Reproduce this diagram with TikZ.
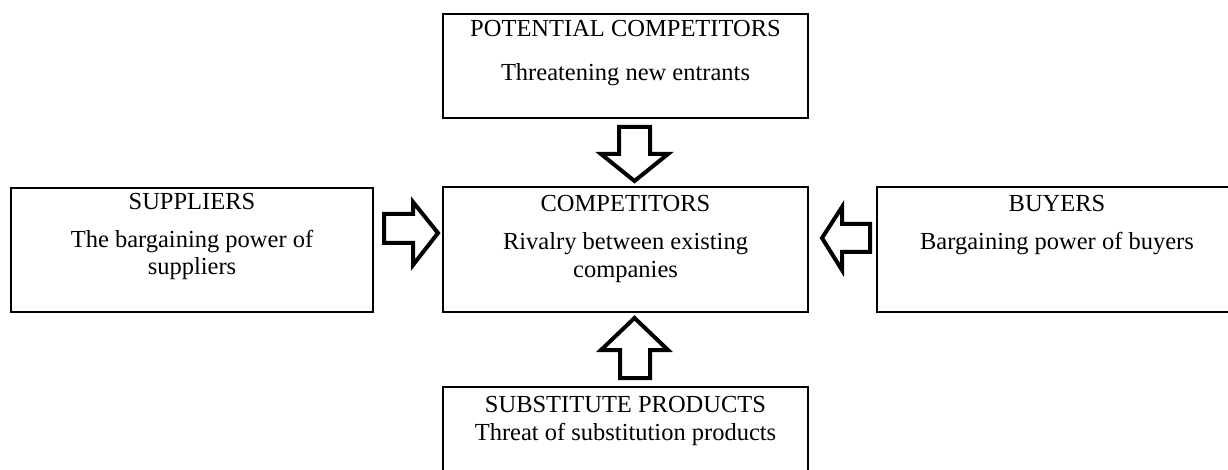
\documentclass[tikz,border=0pt]{standalone}
\usepackage{fontspec}
\setmainfont{Liberation Serif}
\begin{document}
\begin{tikzpicture}[x=1pt,y=1pt,
  box/.style={draw=black,line width=2.8pt,fill=white,rectangle,inner sep=0pt},
  txt/.style={anchor=base,inner sep=0pt,font=\fontsize{24.5}{28}\selectfont},
  blockarrow/.style={draw=black,line width=4pt,fill=white,line join=miter}]
\useasboundingbox (0,0) rectangle (1228,-470);
% boxes
\node[box,minimum width=365pt,minimum height=104pt] (top) at (625.5,-66) {};
\node[box,minimum width=365pt,minimum height=125pt] (center) at (625.5,-249.5) {};
\node[box,minimum width=362pt,minimum height=124pt] (left) at (192,-250) {};
\node[box,minimum width=360pt,minimum height=125pt] (right) at (1057,-249.5) {};
\node[box,minimum width=365pt,minimum height=93pt] (bottom) at (625.5,-433.5) {};
% texts
\node[txt] (t1) at (625.5,-37) {POTENTIAL COMPETITORS};
\node[txt] (t2) at (625.5,-81) {Threatening new entrants};
\node[txt] (c1) at (625.5,-212) {COMPETITORS};
\node[txt] (c2) at (625.5,-250) {Rivalry between existing};
\node[txt] (c3) at (625.5,-277) {companies};
\node[txt] (l1) at (192,-210) {SUPPLIERS};
\node[txt] (l2) at (192,-248) {The bargaining power of};
\node[txt] (l3) at (192,-275) {suppliers};
\node[txt] (r1) at (1057,-212) {BUYERS};
\node[txt] (r2) at (1057,-250) {Bargaining power of buyers};
\node[txt] (b1) at (625.5,-412) {SUBSTITUTE PRODUCTS};
\node[txt] (b2) at (625.5,-440) {Threat of substitution products};
% block arrows
\draw[blockarrow] (619,-127) -- (650,-127) -- (650,-154) -- (668,-154) -- (634.5,-181) -- (601,-154) -- (619,-154) -- cycle;
\draw[blockarrow] (620,-378) -- (650,-378) -- (650,-350) -- (668,-350) -- (634.5,-318) -- (601,-350) -- (620,-350) -- cycle;
\draw[blockarrow] (384,-214) -- (413,-214) -- (413,-202) -- (438,-233) -- (413,-265) -- (413,-243) -- (384,-243) -- cycle;
\draw[blockarrow] (870,-224) -- (842,-224) -- (842,-207) -- (822,-238) -- (842,-270) -- (842,-252) -- (870,-252) -- cycle;
\end{tikzpicture}
\end{document}
